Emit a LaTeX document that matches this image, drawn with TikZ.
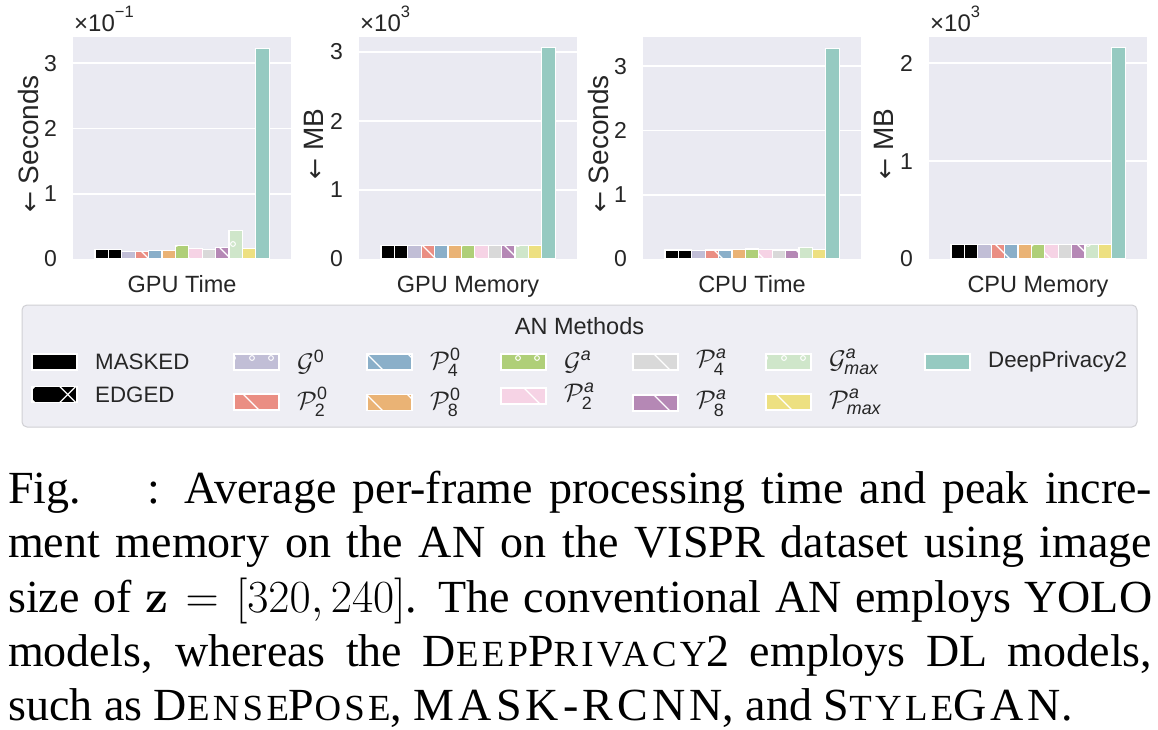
\documentclass[tikz,border=0pt]{standalone}
\usepackage{fix-cm}
\usepackage{amsmath}
\usepackage[no-math]{fontspec}
\setmainfont{Liberation Serif}
\newfontfamily\captrk[LetterSpace=9]{Liberation Serif}
\newfontfamily\plotfont{Liberation Sans}
\newfontfamily\arrowfont{DejaVu Sans}

\definecolor{sbbg}{HTML}{EAEAF2}
\definecolor{legbg}{HTML}{EEEEF4}
\definecolor{legedge}{HTML}{D0D0D4}
\definecolor{txt}{HTML}{262626}
\definecolor{bc0}{HTML}{000000}
\definecolor{bc1}{HTML}{000000}
\definecolor{bc2}{HTML}{C1BED6}
\definecolor{bc3}{HTML}{EA8E83}
\definecolor{bc4}{HTML}{8AAFC9}
\definecolor{bc5}{HTML}{EAB375}
\definecolor{bc6}{HTML}{AFCF78}
\definecolor{bc7}{HTML}{F6D3E5}
\definecolor{bc8}{HTML}{D9D9D9}
\definecolor{bc9}{HTML}{B588B5}
\definecolor{bc10}{HTML}{CFE6CA}
\definecolor{bc11}{HTML}{EDE081}
\definecolor{bc12}{HTML}{96CAC1}

% '\' hatch lines: x = y + c + 41k
\newcommand\hatchback[5]{%
  \begin{scope}
    \clip (#1,#2) rectangle (#3,#4);
    \pgfmathtruncatemacro\kmin{floor((#1-#4-#5)/41)}
    \pgfmathtruncatemacro\kmax{ceil((#3-#2-#5)/41)}
    \foreach \kk in {\kmin,...,\kmax}{
      \draw[hatchln] ({#2+#5+41*\kk},#2) -- ({#4+#5+41*\kk},#4);
    }
  \end{scope}}
% '/' hatch lines: x = -y + c + 41k
\newcommand\hatchfwd[5]{%
  \begin{scope}
    \clip (#1,#2) rectangle (#3,#4);
    \pgfmathtruncatemacro\kmin{floor((#1+#2-#5)/41)}
    \pgfmathtruncatemacro\kmax{ceil((#3+#4-#5)/41)}
    \foreach \kk in {\kmin,...,\kmax}{
      \draw[hatchln] ({#5+41*\kk-#2},#2) -- ({#5+41*\kk-#4},#4);
    }
  \end{scope}}
% 'o' hatch circles at (5+19i, 244+19j)
\newcommand\hatchcirc[4]{%
  \begin{scope}
    \clip (#1,#2) rectangle (#3,#4);
    \pgfmathtruncatemacro\imin{floor((#1-5)/19)-1}
    \pgfmathtruncatemacro\imax{ceil((#3-5)/19)+1}
    \pgfmathtruncatemacro\jmin{floor((#2-244)/19)-1}
    \pgfmathtruncatemacro\jmax{ceil((#4-244)/19)+1}
    \foreach \ii in {\imin,...,\imax}{
      \foreach \jj in {\jmin,...,\jmax}{
        \draw[hatchln, line width=1pt] ({5+19*\ii},{244+19*\jj}) circle[radius=2.4pt];
      }}
  \end{scope}}
\newcommand\dohatch[5]{%
  \ifcase#1
  \or \hatchback{#2}{#3}{#4}{#5}{1.2}\hatchfwd{#2}{#3}{#4}{#5}{11.2}%
  \or \hatchcirc{#2}{#3}{#4}{#5}%
  \or \hatchback{#2}{#3}{#4}{#5}{13}%
  \or \hatchback{#2}{#3}{#4}{#5}{13}%
  \or \hatchback{#2}{#3}{#4}{#5}{13}%
  \or \hatchcirc{#2}{#3}{#4}{#5}%
  \or \hatchback{#2}{#3}{#4}{#5}{13}%
  \or \hatchback{#2}{#3}{#4}{#5}{13}%
  \or \hatchback{#2}{#3}{#4}{#5}{13}%
  \or \hatchcirc{#2}{#3}{#4}{#5}%
  \or \hatchback{#2}{#3}{#4}{#5}{13}%
  \or
  \fi}

% bars of one panel: #1 axis left, #2 px per unit, #3 values
\newcommand\panelbars[3]{%
  \foreach \v [count=\i from 0] in {#3}{
    \pgfmathsetmacro\bxl{#1+22+13.4*\i}
    \pgfmathsetmacro\bxr{\bxl+13.4}
    \pgfmathsetmacro\byt{259-#2*\v}
    \fill[fill=bc\i] (\bxl,\byt) rectangle (\bxr,259);
    \dohatch{\i}{\bxl}{\byt}{\bxr}{259}
    \draw[baredge] (\bxl,259) rectangle (\bxr,\byt);
  }}

% legend entry: #1 index, #2 patch left x, #3 centre y, #4 label
\newcommand\legentry[4]{%
  \pgfmathsetmacro\lx{#2+45}
  \pgfmathsetmacro\lt{#3-8}
  \pgfmathsetmacro\lb{#3+8}
  \fill[fill=bc#1] (#2,\lt) rectangle (\lx,\lb);
  \dohatch{#1}{#2}{\lt}{\lx}{\lb}
  \draw[baredge] (#2,\lt) rectangle (\lx,\lb);
  \node[leglab, anchor=west] (leg#1) at (#2+63,#3) {#4};}

\newcommand\sm[1]{{\fontsize{36.8}{36.8}\selectfont #1}}
\newcommand\supa{\text{\itshape a}}
\newcommand\tx[1]{\text{#1}}
\newcommand\mlab[1]{{\fontsize{25.5}{25.5}\selectfont$#1$}}
\newcommand\larr{{\arrowfont\fontsize{25}{25}\selectfont ←}\hspace{8pt}}

\begin{document}
\begin{tikzpicture}[x=1pt,y=-1pt,
  baredge/.style={draw=white, line width=1.1pt},
  hatchln/.style={draw=white, line width=1.3pt},
  gridln/.style={draw=white, line width=1.6pt},
  ticklab/.style={font=\plotfont\fontsize{23}{23}\selectfont, text=txt, anchor=east, inner sep=0pt},
  xlab/.style={font=\plotfont\fontsize{23.5}{23.5}\selectfont, text=txt, anchor=base, inner sep=0pt},
  ylab/.style={font=\plotfont\fontsize{28}{28}\selectfont, text=txt, anchor=base, rotate=90, inner sep=0pt},
  offlab/.style={font=\plotfont\fontsize{24}{24}\selectfont, text=txt, anchor=base west, inner sep=0pt},
  leglab/.style={font=\plotfont\fontsize{22.3}{22.3}\selectfont, text=txt, inner sep=0pt},
  legtitle/.style={font=\plotfont\fontsize{23.5}{23.5}\selectfont, text=txt, inner sep=0pt},
  capline/.style={font=\fontsize{46}{54}\selectfont, anchor=base west, inner sep=0pt, text=black},
]
\useasboundingbox (0,0) rectangle (1158,730);
\fill[white] (0,0) rectangle (1158,730);

% ---------- Panel 1: GPU Time ----------
\fill[sbbg] (73,37) rectangle (291,259);
\foreach \yy in {193.7,128.4,63.1}{\draw[gridln] (73,\yy) -- (291,\yy);}
\panelbars{73}{65.3}{0.14,0.14,0.12,0.12,0.13,0.13,0.20,0.16,0.15,0.17,0.435,0.165,3.23}
\node[ticklab] (p1t0) at (57,259) {0};
\node[ticklab] (p1t1) at (57,193.7) {1};
\node[ticklab] (p1t2) at (57,128.4) {2};
\node[ticklab] (p1t3) at (57,63.1) {3};
\node[ylab] (p1y) at (38,144) {\larr Seconds};
\node[xlab] (p1x) at (182,292) {GPU Time};
\node[offlab] (p1o) at (74,32) {×10\raisebox{14pt}{\fontsize{16.5}{16.5}\selectfont −1}};

% ---------- Panel 2: GPU Memory ----------
\fill[sbbg] (359,37) rectangle (577,259);
\foreach \yy in {190,121,52}{\draw[gridln] (359,\yy) -- (577,\yy);}
\panelbars{359}{69}{0.2,0.2,0.2,0.2,0.2,0.2,0.2,0.2,0.2,0.2,0.2,0.2,3.06}
\node[ticklab] (p2t0) at (343,259) {0};
\node[ticklab] (p2t1) at (343,190) {1};
\node[ticklab] (p2t2) at (343,121) {2};
\node[ticklab] (p2t3) at (343,52) {3};
\node[ylab] (p2y) at (323,144) {\larr MB};
\node[xlab] (p2x) at (468,292) {GPU Memory};
\node[offlab] (p2o) at (360,32) {×10\raisebox{14pt}{\fontsize{16.5}{16.5}\selectfont 3}};

% ---------- Panel 3: CPU Time ----------
\fill[sbbg] (643,37) rectangle (861,259);
\foreach \yy in {194.7,130.4,66.1}{\draw[gridln] (643,\yy) -- (861,\yy);}
\panelbars{643}{64.3}{0.14,0.14,0.13,0.14,0.14,0.15,0.155,0.15,0.14,0.14,0.175,0.15,3.28}
\node[ticklab] (p3t0) at (627,259) {0};
\node[ticklab] (p3t1) at (627,194.7) {1};
\node[ticklab] (p3t2) at (627,130.4) {2};
\node[ticklab] (p3t3) at (627,66.1) {3};
\node[ylab] (p3y) at (608,144) {\larr Seconds};
\node[xlab] (p3x) at (752,292) {CPU Time};

% ---------- Panel 4: CPU Memory ----------
\fill[sbbg] (929,37) rectangle (1147,259);
\foreach \yy in {161.1,63.2}{\draw[gridln] (929,\yy) -- (1147,\yy);}
\panelbars{929}{97.9}{0.15,0.15,0.15,0.15,0.15,0.15,0.15,0.15,0.15,0.15,0.15,0.15,2.156}
\node[ticklab] (p4t0) at (913,259) {0};
\node[ticklab] (p4t1) at (913,161.1) {1};
\node[ticklab] (p4t2) at (913,63.2) {2};
\node[ylab] (p4y) at (893,144) {\larr MB};
\node[xlab] (p4x) at (1038,292) {CPU Memory};
\node[offlab] (p4o) at (930,32) {×10\raisebox{14pt}{\fontsize{16.5}{16.5}\selectfont 3}};

% ---------- Legend ----------
\draw[draw=legedge, fill=legbg, rounded corners=5pt, line width=1pt] (22,305) rectangle (1137,427);
\node[legtitle] (legt) at (579.5,326) {AN Methods};
\legentry{0}{32}{362}{MASKED}
\legentry{1}{32}{394.5}{EDGED}
\legentry{2}{234}{362}{\mlab{\mathcal{G}^{\tx{0}}}}
\legentry{3}{234}{402}{\mlab{\mathcal{P}^{\tx{0}}_{\tx{2}}}}
\legentry{4}{367}{362}{\mlab{\mathcal{P}^{\tx{0}}_{\tx{4}}}}
\legentry{5}{367}{402.5}{\mlab{\mathcal{P}^{\tx{0}}_{\tx{8}}}}
\legentry{6}{501}{362}{\mlab{\mathcal{G}^{\supa}}}
\legentry{7}{501}{396}{\mlab{\mathcal{P}^{\supa}_{\tx{2}}}}
\legentry{8}{633}{362}{\mlab{\mathcal{P}^{\supa}_{\tx{4}}}}
\legentry{9}{633}{403}{\mlab{\mathcal{P}^{\supa}_{\tx{8}}}}
\legentry{10}{766}{362}{\mlab{\mathcal{G}^{\supa}_{\tx{\itshape max}}}}
\legentry{11}{766}{402}{\mlab{\mathcal{P}^{\supa}_{\tx{\itshape max}}}}
\legentry{12}{925}{362}{DeepPrivacy2}

% ---------- Caption ----------
\node[capline] (cap1) at (8,503) {\hbox to 1144pt{Fig.\hspace{66pt}: Average per-frame processing time and peak incre-}};
\node[capline] (cap2) at (8,557) {\hbox to 1144pt{ment memory on the AN on the VISPR dataset using image}};
\node[capline] (cap3) at (8,612) {\hbox to 1144pt{size of $\mathbf{z}=[320,240]$. The conventional AN employs YOLO}};
\node[capline] (cap4) at (8,666) {\hbox to 1144pt{models, whereas the {\captrk D\sm{EEP}P\sm{RIVACY}2} employs DL models,}};
\node[capline] (cap5) at (8,720) {such as {\captrk D\sm{ENSE}P\sm{OSE}}, {\captrk MASK-RCNN}, and {\captrk S\sm{TYLE}GAN}.};
\end{tikzpicture}
\end{document}
